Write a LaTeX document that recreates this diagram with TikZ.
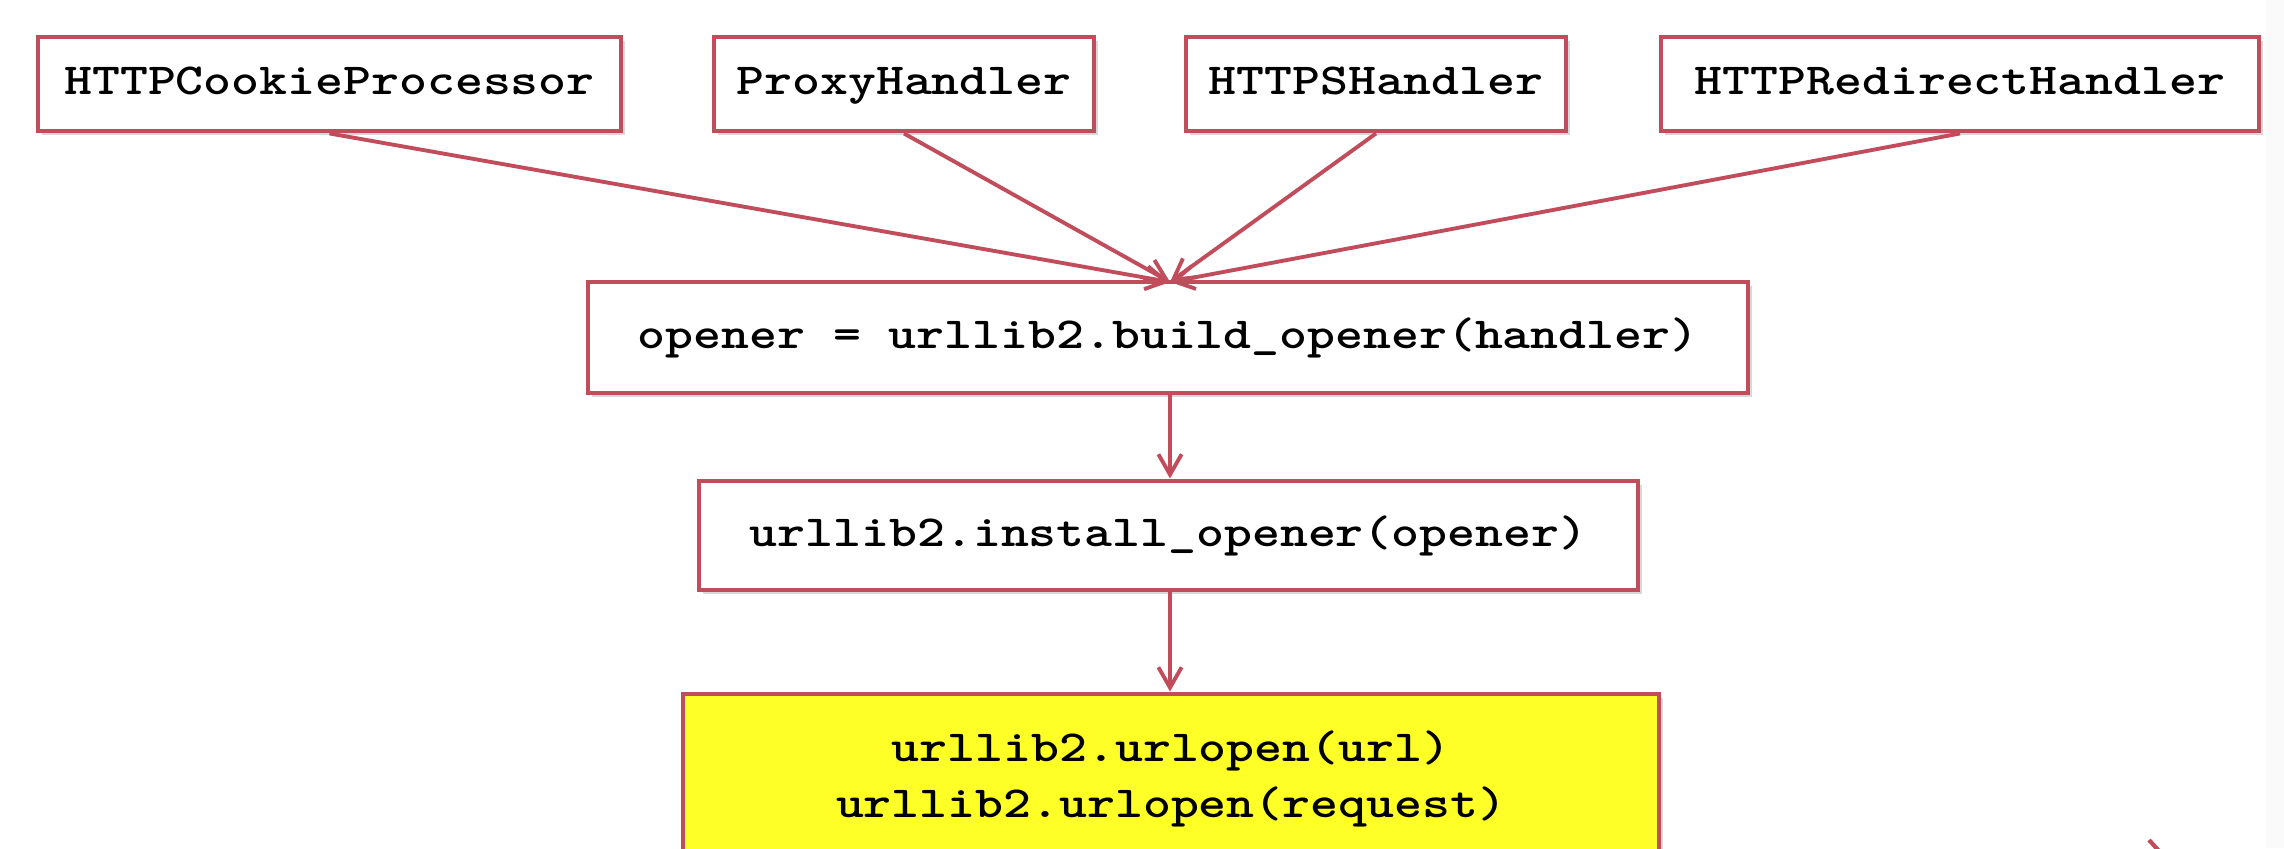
\documentclass[tikz,border=0pt]{standalone}
\usepackage{fontspec}
\newfontfamily\codefont{Latin Modern Mono Light}[FakeStretch=1.2]
\usetikzlibrary{arrows.meta,shadows}
\definecolor{edgered}{RGB}{192,76,92}
\definecolor{boxyellow}{RGB}{255,255,40}
\begin{document}
\begin{tikzpicture}[x=0.01cm,y=-0.01cm,
  box/.style={draw=edgered,line width=1.4pt,fill=white,inner sep=0pt,
    font=\codefont\bfseries\fontsize{12.6}{15.7}\selectfont,align=center,
    drop shadow={shadow xshift=1.2pt,shadow yshift=-1.2pt,opacity=0.25,fill=black!60}},
  oneline/.style={text height=0.62em,text depth=0.02em},
  link/.style={draw=edgered,line width=1.1pt,-{Straight Barb[length=5.8pt,width=6.6pt,line width=1.1pt]}}]
\useasboundingbox (0,0) rectangle (2284,848);
\clip (0,0) rectangle (2284,848);
\fill[white] (0,0) rectangle (2284,848);
\fill[black!2] (2266,0) rectangle (2284,848);
% top row
\node[box,oneline,minimum width=583*0.01cm,minimum height=94*0.01cm] (cookie) at (329.5,84) {HTTPCookieProcessor};
\node[box,oneline,minimum width=380*0.01cm,minimum height=94*0.01cm] (proxy) at (904,84) {ProxyHandler};
\node[box,oneline,minimum width=380*0.01cm,minimum height=94*0.01cm] (https) at (1376,84) {HTTPSHandler};
\node[box,oneline,minimum width=598*0.01cm,minimum height=94*0.01cm] (redirect) at (1960,84) {HTTPRedirectHandler};
% middle
\node[box,oneline,minimum width=1160*0.01cm,minimum height=111*0.01cm] (build) at (1168,337.5) {opener = urllib2.build\_opener(handler)};
\node[box,oneline,minimum width=939*0.01cm,minimum height=109*0.01cm] (install) at (1168.5,535.5) {urllib2.install\_opener(opener)};
% bottom
\node[box,fill=boxyellow,minimum width=976*0.01cm,minimum height=170*0.01cm] (open) at (1171,779) {urllib2.urlopen(url)\\urllib2.urlopen(request)};
% connectors
\coordinate (meet) at (1170,282);
\draw[link] (cookie.south) -- (meet);
\draw[link] (proxy.south) -- (meet);
\draw[link] (https.south) -- (meet);
\draw[link] (redirect.south) -- (meet);
\draw[link] (build.south -| meet) -- (install.north -| meet);
\draw[link] (install.south -| meet) -- (open.north -| meet);
% fragment at the lower right edge
\coordinate (fragA) at (2160,852);
\coordinate (fragB) at (2149,840);
\draw[edgered,line width=1.2pt] (fragA) -- (fragB);
\end{tikzpicture}
\end{document}
